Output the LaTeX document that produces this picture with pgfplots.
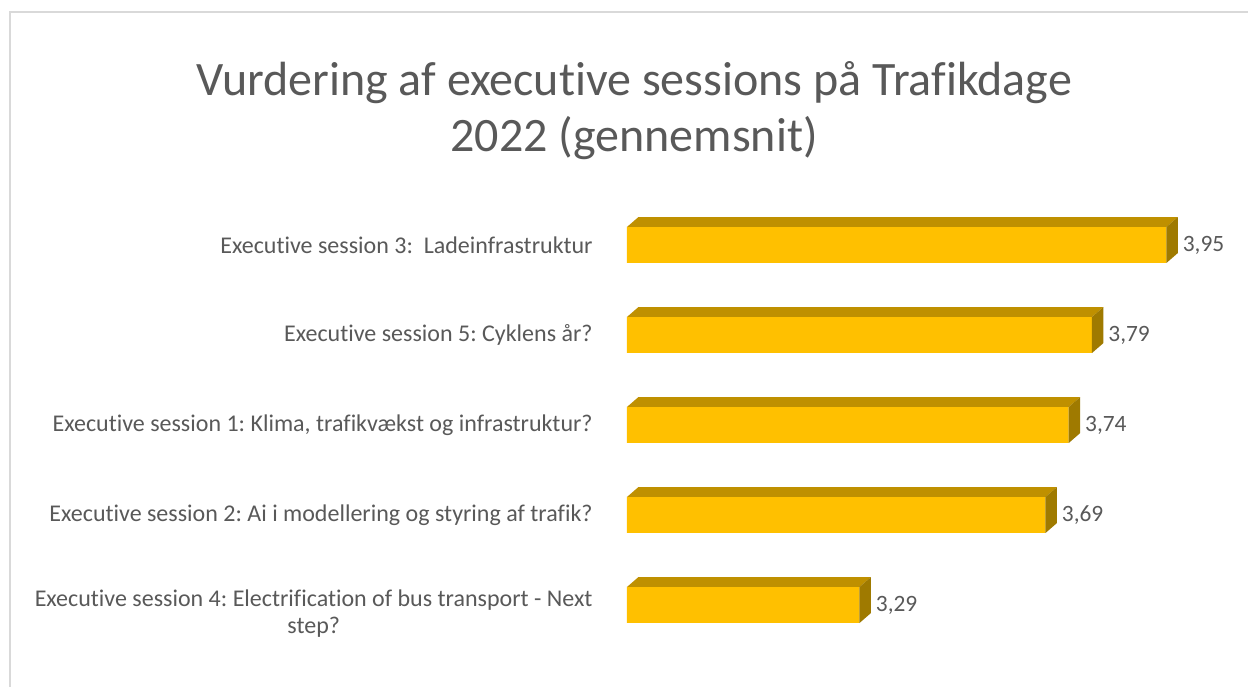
\documentclass[border=0pt]{standalone}
\usepackage{fontspec}
\setmainfont{Carlito}[Ligatures=NoCommon]
\usepackage{pgfplots}
\pgfplotsset{compat=1.18}
\usepackage{pgfplotstable}
\definecolor{gold}{HTML}{FFC000}
\definecolor{goldtop}{HTML}{BF9000}
\definecolor{goldside}{HTML}{9F7A00}
\definecolor{txt}{HTML}{595959}
\definecolor{frame}{HTML}{D9D9D9}
\frenchspacing

\pgfplotstableread{
pos val lab
0 3.29 3,29
1 3.69 3,69
2 3.74 3,74
3 3.79 3,79
4 3.95 3,95
}\data

\begin{document}
\begin{tikzpicture}
\useasboundingbox (-313.5bp,-18.5bp) rectangle (310.5bp,325bp);
\fill[white] (-313.5bp,-18.5bp) rectangle (310.5bp,325bp);
\draw[frame, line width=0.9bp] (-308.5bp,-20bp) -- (-308.5bp,319bp) -- (312bp,319bp);
\node[font=\fontsize{24bp}{28bp}\selectfont, text=txt, anchor=base] at (3.5bp,277bp) {Vurdering af executive sessions på Trafikdage};
\node[font=\fontsize{24bp}{28bp}\selectfont, text=txt, anchor=base] at (3.5bp,249bp) {2022 (gennemsnit)};
\begin{axis}[
  at={(0,0)}, anchor=south west,
  x=232.5bp, y=45bp,
  xmin=2.79, xmax=4.1, ymin=-0.5, ymax=4.5,
  axis line style={draw=none},
  tick style={draw=none},
  major tick length=0pt,
  xtick=\empty,
  ytick={0,1,2,3,4},
  yticklabels={{\rule{0pt}{17bp}Executive session 4: Electrification of bus transport - Next\\step?},
               {Executive session 2: Ai i modellering og styring af trafik?},
               {Executive session 1: Klima, trafikvækst og infrastruktur?},
               {Executive session 5: Cyklens år?},
               {Executive session 3:\ \ Ladeinfrastruktur}},
  yticklabel style={font=\fontsize{12bp}{13.5bp}\selectfont, text=txt, align=center, anchor=east, inner sep=0pt, xshift=-17bp},
]
\addplot[xbar, bar width=18bp, fill=gold, draw=none,
  nodes near coords, point meta=explicit symbolic,
  nodes near coords style={font=\fontsize{11.7bp}{14bp}\selectfont, text=txt, anchor=west, inner sep=0pt, xshift=8bp}]
  table[x=val, y=pos, meta=lab]{\data};
\def\p{0}
\pgfplotsforeachungrouped \v in {3.29,3.69,3.74,3.79,3.95}{
  \pgfmathsetmacro\yb{\p+0.2}
  \pgfmathsetmacro\yt{\p+0.2+0.111}
  \pgfmathsetmacro\yl{\p-0.2}
  \pgfmathsetmacro\ylt{\p-0.2+0.111}
  \pgfmathsetmacro\vr{\v+0.0247}
  \edef\temp{%
    \noexpand\addplot[fill=goldtop, draw=none] coordinates {(2.79,\yb) (\v,\yb) (\vr,\yt) (2.8147,\yt)} -- cycle;
    \noexpand\addplot[fill=goldside, draw=none] coordinates {(\v,\yl) (\v,\yb) (\vr,\yt) (\vr,\ylt)} -- cycle;
  }%
  \temp
  \pgfmathtruncatemacro\p{\p+1}
}
\end{axis}
\end{tikzpicture}
\end{document}
